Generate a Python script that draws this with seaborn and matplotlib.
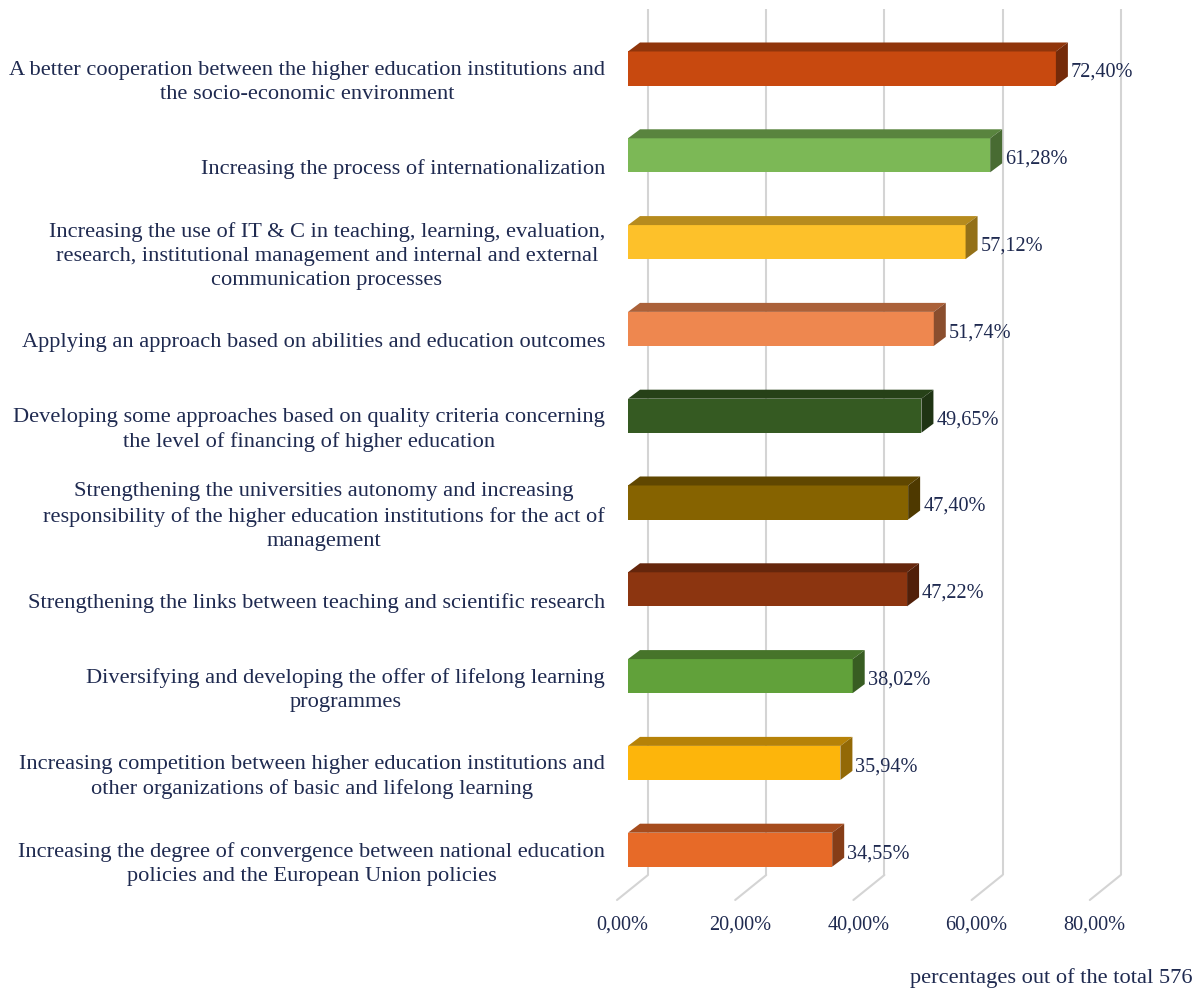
import numpy as np
import pandas as pd
import matplotlib
matplotlib.use("Agg")
import matplotlib.pyplot as plt
import matplotlib.transforms as mtransforms
from matplotlib.patches import Polygon
from matplotlib.colors import to_rgb
import seaborn as sns

categories = [
    "A better cooperation between the higher education institutions and\nthe socio-economic environment",
    "Increasing the process of internationalization",
    "Increasing the use of IT & C in teaching, learning, evaluation,\nresearch, institutional management and internal and external\ncommunication processes",
    "Applying an approach based on abilities and education outcomes",
    "Developing some approaches based on quality criteria concerning\nthe level of financing of higher education",
    "Strengthening the universities autonomy and increasing\nresponsibility of the higher education institutions for the act of\nmanagement",
    "Strengthening the links between teaching and scientific research",
    "Diversifying and developing the offer of lifelong learning\nprogrammes",
    "Increasing competition between higher education institutions and\nother organizations of basic and lifelong learning",
    "Increasing the degree of convergence between national education\npolicies and the European Union policies",
]
values = [72.40, 61.28, 57.12, 51.74, 49.65, 47.40, 47.22, 38.02, 35.94, 34.55]
value_labels = ["72,40%", "61,28%", "57,12%", "51,74%", "49,65%",
                "47,40%", "47,22%", "38,02%", "35,94%", "34,55%"]
bar_colors = ["#C8490F", "#7CB856", "#FDC12A", "#EE874F", "#355A22",
              "#866300", "#8C3510", "#61A13A", "#FDB50B", "#E76A28"]
x_ticks = [0, 20, 40, 60, 80]
x_tick_labels = ["0,00%", "20,00%", "40,00%", "60,00%", "80,00%"]
axis_title = "percentages out of the total 576"

TXT = "#1F2A50"
FONT = ["Liberation Serif", "DejaVu Serif"]
FS_CAT = 16.1
FS_NUM = 14.6

sns.set_style("white")
plt.rcParams["font.family"] = FONT

W, H = 1195, 988
fig = plt.figure(figsize=(W / 100, H / 100), dpi=100)
# axes geometry (pixels)
left_px, right_px = 628, 628 + 80 * 5.91
top_px, bottom_px = 9, 875
y_top = (top_px - 68.5) / 86.8
y_bot = (bottom_px - 68.5) / 86.8
ax = fig.add_axes([left_px / W, (H - bottom_px) / H,
                   (right_px - left_px) / W, (bottom_px - top_px) / H])

df = pd.DataFrame({"cat": categories, "val": values})
sns.barplot(data=df, x="val", y="cat", hue="cat", palette=bar_colors,
            orient="h", width=0.392, legend=False, ax=ax,
            saturation=1, zorder=3)

ax.set_xlim(0, 80)
ax.set_ylim(y_bot, y_top)
for s in ax.spines.values():
    s.set_visible(False)
ax.set_xticks([])
ax.set_yticks([])
ax.set_xlabel("")
ax.set_ylabel("")
ax.grid(False)

# pixel -> data conversion
px_x = (right_px - left_px) / 80.0
px_y = (bottom_px - top_px) / (y_bot - y_top)
dx, dy = 12 / px_x, 9 / px_y

def shade(c, f):
    r, g, b = to_rgb(c)
    return (r * f, g * f, b * f)

# back gridlines and floor lines
back = 20 / px_x
for xv in x_ticks:
    ax.plot([xv + back, xv + back], [y_bot, y_top], color="#D4D4D4",
            lw=1.5, zorder=0, clip_on=False, solid_capstyle="butt")
    ax.plot([xv + back, xv - 11 / px_x], [y_bot, y_bot + 25 / px_y],
            color="#D4D4D4", lw=1.5, zorder=0, clip_on=False)

# 3D faces for bars
for p, col in zip(ax.patches, bar_colors):
    x0 = p.get_x()
    x1 = x0 + p.get_width()
    y0 = p.get_y()
    y1 = y0 + p.get_height()
    yt, yb = min(y0, y1), max(y0, y1)
    top = Polygon([(x0, yt), (x1, yt), (x1 + dx, yt - dy), (x0 + dx, yt - dy)],
                  closed=True, facecolor=shade(col, 0.72), edgecolor="none",
                  zorder=3, clip_on=False)
    side = Polygon([(x1, yt), (x1, yb), (x1 + dx, yb - dy), (x1 + dx, yt - dy)],
                   closed=True, facecolor=shade(col, 0.58), edgecolor="none",
                   zorder=3, clip_on=False)
    ax.add_patch(top)
    ax.add_patch(side)
    p.set_edgecolor("none")

# value labels
for i, (v, lab) in enumerate(zip(values, value_labels)):
    tr = mtransforms.offset_copy(ax.transData, fig=fig, x=15, y=-4, units="dots")
    ax.text(v, i, lab, transform=tr, ha="left", va="center",
            fontsize=FS_NUM, color=TXT, family=FONT, clip_on=False)

# category labels
for i, cat in enumerate(categories):
    tr = mtransforms.offset_copy(ax.get_yaxis_transform(), fig=fig,
                                 x=-23, y=-14, units="dots")
    ax.text(0, i, cat, transform=tr, ha="right", va="center",
            multialignment="center", fontsize=FS_CAT, color=TXT, family=FONT,
            linespacing=1.35, clip_on=False)

# x tick labels
for xv, lab in zip(x_ticks, x_tick_labels):
    tr = mtransforms.offset_copy(ax.get_xaxis_transform(), fig=fig,
                                 x=-6, y=-50, units="dots")
    ax.text(xv, 0, lab, transform=tr, ha="center", va="center",
            fontsize=FS_NUM, color=TXT, family=FONT, clip_on=False)

fig.text(910 / W, (H - 978) / H, axis_title, ha="left", va="center",
         fontsize=FS_CAT, color=TXT, family=FONT)

fig.savefig("out.png", dpi=100)
